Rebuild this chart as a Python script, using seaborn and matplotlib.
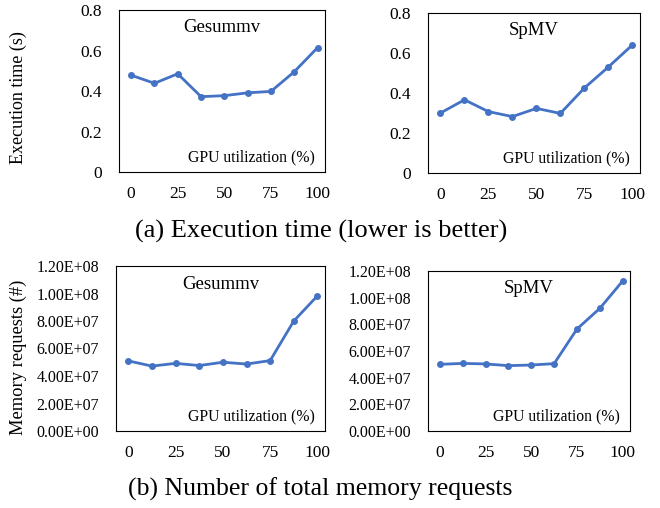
import matplotlib
matplotlib.use("Agg")
import matplotlib.pyplot as plt
import seaborn as sns
import pandas as pd
from matplotlib.ticker import FuncFormatter

sns.set_style("white")
plt.rcParams['font.family'] = ['Liberation Serif', 'DejaVu Serif']
plt.rcParams['text.color'] = 'black'
plt.rcParams['xtick.color'] = 'black'
plt.rcParams['ytick.color'] = 'black'

# GPU utilization (%)
util = [0, 12.5, 25, 37.5, 50, 62.5, 75, 87.5, 100]

# execution time (s)
gesummv_time = [0.478, 0.438, 0.485, 0.372, 0.377, 0.391, 0.398, 0.495, 0.614]
spmv_time = [0.300, 0.366, 0.307, 0.282, 0.323, 0.298, 0.425, 0.530, 0.640]

# memory requests (#)
gesummv_mem = [5.1e7, 4.72e7, 4.92e7, 4.76e7, 5.0e7, 4.87e7, 5.12e7, 8.0e7, 9.83e7]
spmv_mem = [5.0e7, 5.07e7, 5.03e7, 4.9e7, 4.95e7, 5.05e7, 7.65e7, 9.2e7, 1.125e8]

blue = '#4472C4'

fig = plt.figure(figsize=(6.6, 5.08), dpi=100)
W, H = 660, 508

def add_ax(left, top, right, bottom):
    return fig.add_axes([left / W, 1 - bottom / H, (right - left) / W, (bottom - top) / H])

panels = [
    (add_ax(119, 10, 325, 172), gesummv_time, 'Gesummv', (0, 0.8), [0, 0.2, 0.4, 0.6, 0.8], 'time'),
    (add_ax(428, 13, 640, 173), spmv_time, 'SpMV', (0, 0.8), [0, 0.2, 0.4, 0.6, 0.8], 'time'),
    (add_ax(116, 266, 325, 431), gesummv_mem, 'Gesummv', (0, 1.2e8), [0, 2e7, 4e7, 6e7, 8e7, 1e8, 1.2e8], 'mem'),
    (add_ax(428, 271, 630, 431), spmv_mem, 'SpMV', (0, 1.2e8), [0, 2e7, 4e7, 6e7, 8e7, 1e8, 1.2e8], 'mem'),
]

for ax, vals, name, ylim, yticks, kind in panels:
    df = pd.DataFrame({'util': util, 'value': vals})
    sns.lineplot(data=df, x='util', y='value', ax=ax, color=blue, linewidth=2,
                 marker='o', markersize=5, markeredgewidth=0)
    ax.set_xlim(-6.5, 104)
    ax.set_ylim(*ylim)
    ax.set_xticks([0, 25, 50, 75, 100])
    ax.set_yticks(yticks)
    if kind == 'time':
        ax.yaxis.set_major_formatter(FuncFormatter(lambda v, p: '0' if v == 0 else f'{v:.1f}'))
    else:
        ax.yaxis.set_major_formatter(FuncFormatter(lambda v, p: f'{v:.2E}'))
    ax.tick_params(axis='both', length=0, labelsize=12.5 if kind == 'time' else 11.5)
    ax.tick_params(axis='x', pad=10, labelsize=12.5)
    ax.tick_params(axis='y', pad=12)
    ax.set_xlabel('')
    ax.set_ylabel('')
    for s in ax.spines.values():
        s.set_color('black')
        s.set_linewidth(0.8)
    ax.text(0.5, 0.89, name, transform=ax.transAxes, ha='center', va='center', fontsize=13.5)
    ax.text(0.95, 0.09, 'GPU utilization (%)', transform=ax.transAxes, ha='right', va='center', fontsize=11.3)

fig.text(18 / W, 1 - 98 / H, 'Execution time (s)', rotation=90, ha='center', va='center', fontsize=13)
fig.text(18 / W, 1 - 357 / H, 'Memory requests (#)', rotation=90, ha='center', va='center', fontsize=13.3)

fig.text(321 / W, 1 - 231 / H, '(a) Execution time (lower is better)', ha='center', va='center', fontsize=19)
fig.text(320 / W, 1 - 489 / H, '(b) Number of total memory requests', ha='center', va='center', fontsize=18.5)

fig.savefig('out.png', dpi=100)
plt.close(fig)
